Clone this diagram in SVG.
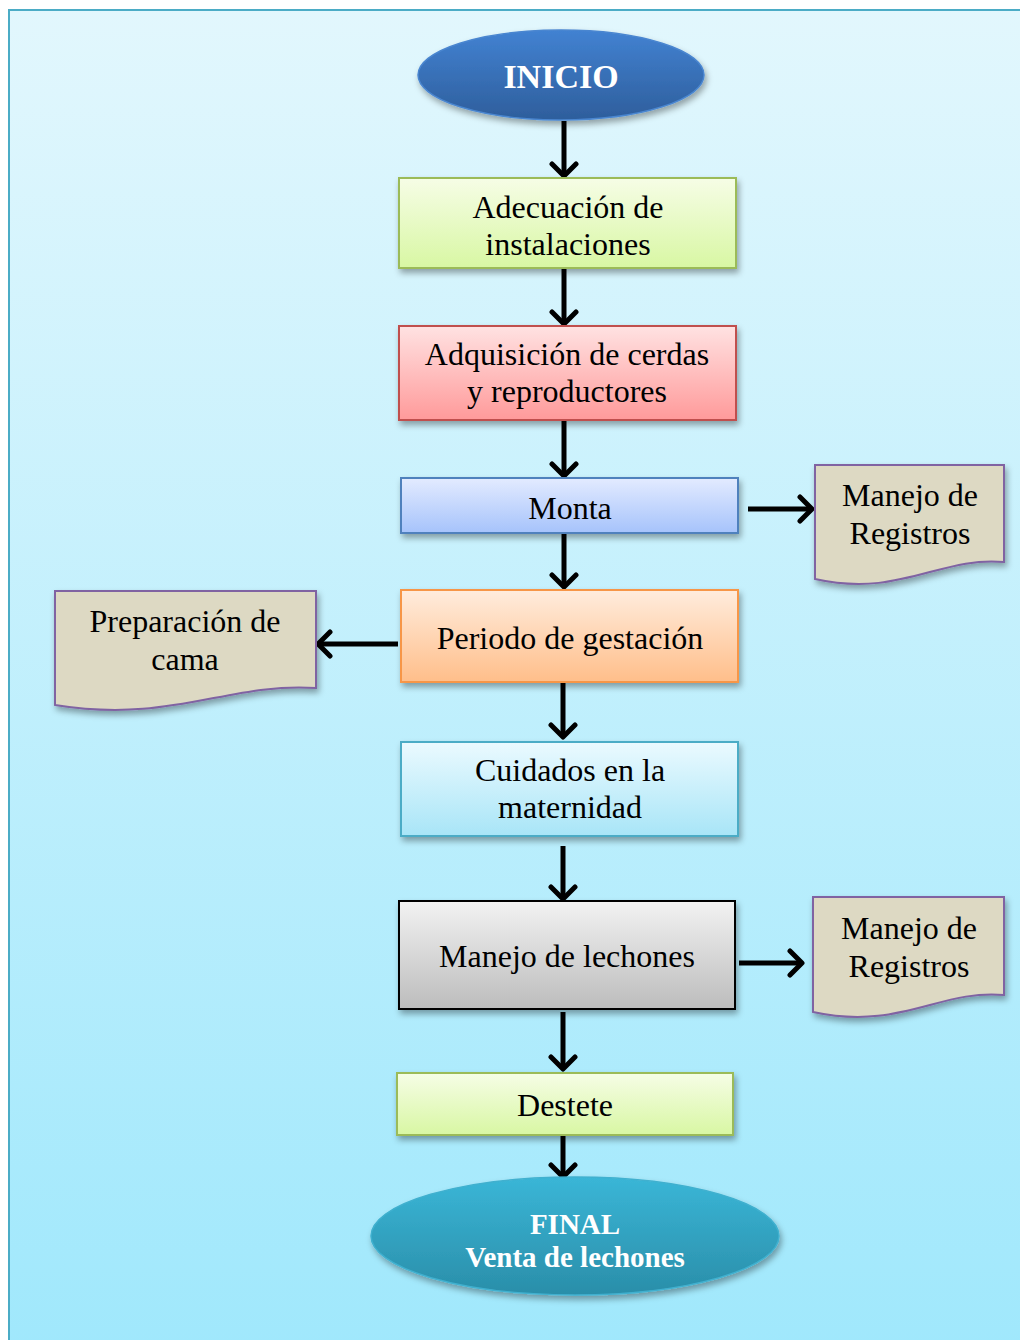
<svg xmlns="http://www.w3.org/2000/svg" width="1020" height="1340" viewBox="0 0 1020 1340">
<defs>
<linearGradient id="bg" x1="0" y1="0" x2="0" y2="1"><stop offset="0" stop-color="#e2f7fd"/><stop offset="1" stop-color="#a0e8fc"/></linearGradient>
<linearGradient id="gGreen" x1="0" y1="0" x2="0" y2="1"><stop offset="0" stop-color="#f6fde6"/><stop offset="1" stop-color="#d8f7a3"/></linearGradient>
<linearGradient id="gRed" x1="0" y1="0" x2="0" y2="1"><stop offset="0" stop-color="#ffe2e2"/><stop offset="1" stop-color="#ff9a9a"/></linearGradient>
<linearGradient id="gBlue" x1="0" y1="0" x2="0" y2="1"><stop offset="0" stop-color="#e3ebff"/><stop offset="1" stop-color="#a6c3fb"/></linearGradient>
<linearGradient id="gOrange" x1="0" y1="0" x2="0" y2="1"><stop offset="0" stop-color="#ffecdd"/><stop offset="1" stop-color="#ffbe8a"/></linearGradient>
<linearGradient id="gCyan" x1="0" y1="0" x2="0" y2="1"><stop offset="0" stop-color="#ebfaff"/><stop offset="1" stop-color="#a8e5f7"/></linearGradient>
<linearGradient id="gGray" x1="0" y1="0" x2="0" y2="1"><stop offset="0" stop-color="#f2f2f2"/><stop offset="1" stop-color="#bcbcbc"/></linearGradient>
<linearGradient id="gStart" x1="0" y1="0" x2="0" y2="1"><stop offset="0" stop-color="#4282d2"/><stop offset="1" stop-color="#2e5e9c"/></linearGradient>
<linearGradient id="gEnd" x1="0" y1="0" x2="0" y2="1"><stop offset="0" stop-color="#3ab6d7"/><stop offset="1" stop-color="#2a8ea9"/></linearGradient>
<filter id="sh" x="-10%" y="-10%" width="125%" height="135%"><feDropShadow dx="2" dy="4" stdDeviation="3" flood-color="#000" flood-opacity="0.35"/></filter>
<marker id="arr" markerUnits="userSpaceOnUse" viewBox="0 0 18 30" markerWidth="18" markerHeight="30" refX="15" refY="15" orient="auto">
<path d="M3,3 L15,15 L3,27" fill="none" stroke="#000" stroke-width="5" stroke-linecap="round" stroke-linejoin="round"/>
</marker>
<style>
.t{font-family:"Liberation Serif","Times New Roman",serif;font-size:32px;fill:#000;text-anchor:middle}
.tb{font-family:"Liberation Serif","Times New Roman",serif;font-weight:bold;fill:#fff;text-anchor:middle}
.box{filter:url(#sh);stroke-width:2}
.doc{fill:#ddd9c3;stroke:#8064a2;stroke-width:2;filter:url(#sh)}
.c{stroke:#000;stroke-width:5;fill:none;marker-end:url(#arr)}
</style>
</defs>
<rect x="0" y="0" width="1020" height="1340" fill="#fff"/>
<rect x="9" y="10" width="1020" height="1340" fill="url(#bg)" stroke="#4bacc6" stroke-width="2"/>

<g id="connectors">
<line class="c" x1="564" y1="121" x2="564" y2="176"/>
<line class="c" x1="564" y1="269" x2="564" y2="324"/>
<line class="c" x1="564" y1="421" x2="564" y2="476"/>
<line class="c" x1="748" y1="509" x2="812" y2="509"/>
<line class="c" x1="564" y1="533" x2="564" y2="587"/>
<line class="c" x1="398" y1="644" x2="318" y2="644"/>
<line class="c" x1="563" y1="682" x2="563" y2="737"/>
<line class="c" x1="563" y1="846" x2="563" y2="899"/>
<line class="c" x1="739" y1="963" x2="802" y2="963"/>
<line class="c" x1="563" y1="1012" x2="563" y2="1069"/>
<line class="c" x1="563" y1="1135" x2="563" y2="1177"/>
</g>

<g id="inicio">
<ellipse cx="561" cy="75" rx="143" ry="45" fill="url(#gStart)" stroke="#4a86d0" stroke-width="1.5" filter="url(#sh)"/>
<text class="tb" x="561" y="88" font-size="34">INICIO</text>
</g>

<g id="adecuacion">
<rect class="box" x="399" y="178" width="337" height="90" fill="url(#gGreen)" stroke="#9bbb59"/>
<text class="t" x="568" y="218">Adecuación de</text>
<text class="t" x="568" y="255">instalaciones</text>
</g>

<g id="adquisicion">
<rect class="box" x="399" y="326" width="337" height="94" fill="url(#gRed)" stroke="#c0504d"/>
<text class="t" x="567" y="365">Adquisición de cerdas</text>
<text class="t" x="567" y="402">y reproductores</text>
</g>

<g id="monta">
<rect class="box" x="401" y="478" width="337" height="55" fill="url(#gBlue)" stroke="#4f81bd"/>
<text class="t" x="570" y="519">Monta</text>
</g>

<g id="registros1">
<path class="doc" d="M815,465 H1004 V562 C940,556 900,598 815,579 Z"/>
<text class="t" x="910" y="506">Manejo de</text>
<text class="t" x="910" y="544">Registros</text>
</g>

<g id="gestacion">
<rect class="box" x="401" y="590" width="337" height="92" fill="url(#gOrange)" stroke="#f79646"/>
<text class="t" x="570" y="649">Periodo de gestación</text>
</g>

<g id="cama">
<path class="doc" d="M55,591 H316 V688 C228,682 172,724 55,705 Z"/>
<text class="t" x="185" y="632">Preparación de</text>
<text class="t" x="185" y="670">cama</text>
</g>

<g id="cuidados">
<rect class="box" x="401" y="742" width="337" height="94" fill="url(#gCyan)" stroke="#4bacc6"/>
<text class="t" x="570" y="781">Cuidados en la</text>
<text class="t" x="570" y="818">maternidad</text>
</g>

<g id="lechones">
<rect class="box" x="399" y="901" width="336" height="108" fill="url(#gGray)" stroke="#000"/>
<text class="t" x="567" y="967">Manejo de lechones</text>
</g>

<g id="registros2">
<path class="doc" d="M813,897 H1004 V995 C940,989 900,1031 813,1012 Z"/>
<text class="t" x="909" y="939">Manejo de</text>
<text class="t" x="909" y="977">Registros</text>
</g>

<g id="destete">
<rect class="box" x="397" y="1073" width="336" height="62" fill="url(#gGreen)" stroke="#9bbb59"/>
<text class="t" x="565" y="1116">Destete</text>
</g>

<g id="final">
<ellipse cx="575" cy="1236" rx="204" ry="59" fill="url(#gEnd)" stroke="#3fb0cf" stroke-width="1.5" filter="url(#sh)"/>
<text class="tb" x="575" y="1234" font-size="29">FINAL</text>
<text class="tb" x="575" y="1267" font-size="29">Venta de lechones</text>
</g>
</svg>
